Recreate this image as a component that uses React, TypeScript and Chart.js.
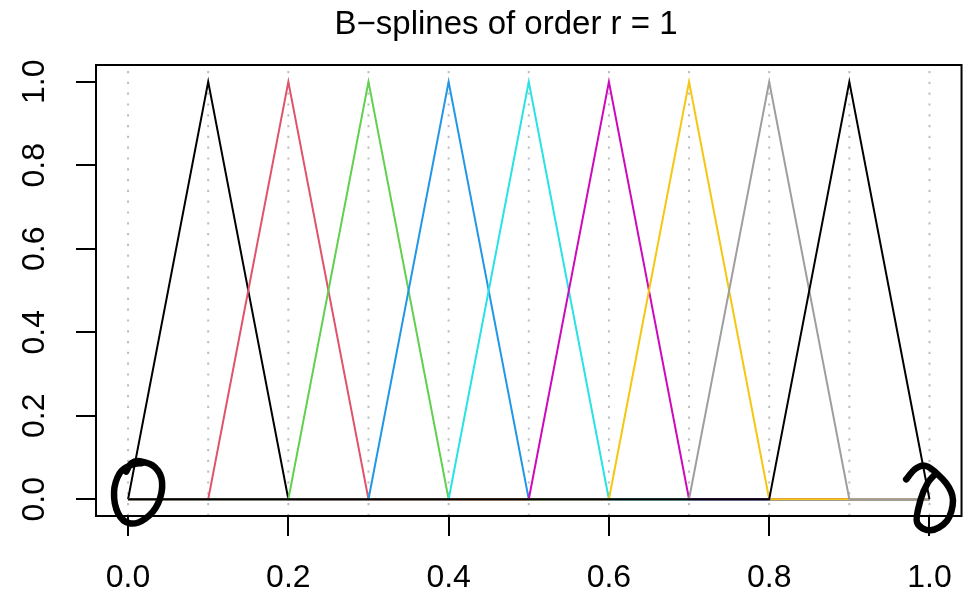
import React, { useEffect, useRef } from "react";
import { Chart, registerables } from "chart.js";

Chart.register(...registerables);

// ---- data ----
const knots = [0, 0.1, 0.2, 0.3, 0.4, 0.5, 0.6, 0.7, 0.8, 0.9, 1.0];
const basis1 = [0, 1, 0, 0, 0, 0, 0, 0, 0, 0, 0];
const basis2 = [0, 0, 1, 0, 0, 0, 0, 0, 0, 0, 0];
const basis3 = [0, 0, 0, 1, 0, 0, 0, 0, 0, 0, 0];
const basis4 = [0, 0, 0, 0, 1, 0, 0, 0, 0, 0, 0];
const basis5 = [0, 0, 0, 0, 0, 1, 0, 0, 0, 0, 0];
const basis6 = [0, 0, 0, 0, 0, 0, 1, 0, 0, 0, 0];
const basis7 = [0, 0, 0, 0, 0, 0, 0, 1, 0, 0, 0];
const basis8 = [0, 0, 0, 0, 0, 0, 0, 0, 1, 0, 0];
const basis9 = [0, 0, 0, 0, 0, 0, 0, 0, 0, 1, 0];
const basisSeries = [basis1, basis2, basis3, basis4, basis5, basis6, basis7, basis8, basis9];
const seriesColors = ["#000000", "#DF536B", "#61D04F", "#2297E6", "#28E2E5", "#CD0BBC", "#F5C710", "#9E9E9E", "#000000"];
const xTickValues = [0, 0.2, 0.4, 0.6, 0.8, 1.0];
const yTickValues = [0, 0.2, 0.4, 0.6, 0.8, 1.0];
const titleText = "B\u2212splines of order r = 1";
const axisMin = -0.04;
const axisMax = 1.04;

// hand-drawn marks (pixel offsets around the anchor points (0,0) and (1,0))
const leftMark = [
  [-1.8, -27.6], [3.2, -36], [12, -38], [27, -32], [34, -17.3], [30, 4],
  [17, 19.5], [1.5, 24], [-10, 14], [-14, -7.3], [-8.5, -26], [2, -34], [14, -36.3],
];
const rightMark = [
  [-23.3, -20], [-13.3, -31], [-1.7, -32.6], [16.7, -16], [23.5, 1], [17.5, 21.5],
  [1, 31], [-12.5, 23], [-9, 0.7], [-2, -16], [6.7, -26],
];

const FONT = "'Liberation Sans', Arial, Helvetica, sans-serif";

function strokeSmooth(ctx: CanvasRenderingContext2D, pts: number[][], ox: number, oy: number) {
  const p = pts.map(([a, b]) => [a + ox, b + oy]);
  ctx.beginPath();
  ctx.moveTo(p[0][0], p[0][1]);
  for (let i = 0; i < p.length - 1; i++) {
    const p0 = p[i - 1] || p[i];
    const p1 = p[i];
    const p2 = p[i + 1];
    const p3 = p[i + 2] || p2;
    ctx.bezierCurveTo(
      p1[0] + (p2[0] - p0[0]) / 6, p1[1] + (p2[1] - p0[1]) / 6,
      p2[0] - (p3[0] - p1[0]) / 6, p2[1] - (p3[1] - p1[1]) / 6,
      p2[0], p2[1]
    );
  }
  ctx.stroke();
}

const framePlugin = {
  id: "rframe",
  afterDatasetsDraw(chart: any) {
    const { ctx, chartArea: a } = chart;
    ctx.save();
    ctx.strokeStyle = "#000";
    ctx.lineWidth = 2;
    ctx.strokeRect(a.left, a.top, a.right - a.left, a.bottom - a.top);
    ctx.restore();
  },
  afterDraw(chart: any) {
    const { ctx } = chart;
    const xs = chart.scales.x;
    const ys = chart.scales.y;
    ctx.save();
    ctx.strokeStyle = "#000";
    ctx.lineWidth = 6.5;
    ctx.lineCap = "round";
    ctx.lineJoin = "round";
    strokeSmooth(ctx, leftMark, xs.getPixelForValue(0), ys.getPixelForValue(0));
    strokeSmooth(ctx, rightMark, xs.getPixelForValue(1), ys.getPixelForValue(0));
    ctx.restore();
  },
};

export default function App() {
  const ref = useRef<HTMLCanvasElement | null>(null);
  useEffect(() => {
    if (!ref.current) return;
    const knotLines = knots.map((k) => ({
      data: [{ x: k, y: axisMin }, { x: k, y: axisMax }],
      borderColor: "#BEBEBE",
      borderWidth: 2,
      borderDash: [2.2, 8.6],
      pointRadius: 0,
      order: 100,
    }));
    const splineSets = basisSeries.map((vals, i) => ({
      data: vals.map((v, j) => ({ x: knots[j], y: v })),
      borderColor: seriesColors[i],
      borderWidth: 2,
      pointRadius: 0,
      tension: 0,
      order: basisSeries.length - i,
    }));
    const chart = new Chart(ref.current, {
      type: "line",
      data: { datasets: [...knotLines, ...splineSets] as any },
      options: {
        animation: false,
        responsive: false,
        devicePixelRatio: 1,
        layout: { padding: { left: 0, right: -37, top: 0, bottom: 0 } },
        plugins: {
          legend: { display: false },
          tooltip: { enabled: false },
          title: {
            display: true,
            text: titleText,
            color: "#000",
            font: { family: FONT, size: 33, weight: "normal" },
            padding: { top: 5, bottom: 20.4 },
          },
        },
        scales: {
          x: {
            type: "linear",
            min: axisMin,
            max: axisMax,
            afterBuildTicks: (s: any) => { s.ticks = xTickValues.map((v) => ({ value: v })); },
            afterFit: (s: any) => { s.height = 84; },
            grid: { display: true, drawOnChartArea: false, drawTicks: true, tickLength: 20, color: "#000", lineWidth: 2 },
            border: { display: false },
            ticks: {
              color: "#000",
              font: { family: FONT, size: 32 },
              padding: 22.8,
              maxRotation: 0,
              minRotation: 0,
              autoSkip: false,
              callback: (v: any) => Number(v).toFixed(1),
            },
          },
          y: {
            type: "linear",
            min: axisMin,
            max: axisMax,
            afterBuildTicks: (s: any) => { s.ticks = yTickValues.map((v) => ({ value: v })); },
            afterFit: (s: any) => { s.width = 96; },
            grid: { display: true, drawOnChartArea: false, drawTicks: true, tickLength: 20, color: "#000", lineWidth: 2 },
            border: { display: false },
            ticks: {
              color: "#000",
              font: { family: FONT, size: 32 },
              padding: 19,
              minRotation: 90,
              maxRotation: 90,
              crossAlign: "center",
              autoSkip: false,
              callback: (v: any) => Number(v).toFixed(1),
            },
          },
          yRightMargin: {
            type: "linear",
            position: "right",
            min: axisMin,
            max: axisMax,
            afterFit: (s: any) => { s.width = 50; },
            grid: { display: false, drawTicks: false },
            border: { display: false },
            ticks: { display: false },
          },
        },
      },
      plugins: [framePlugin],
    });
    return () => chart.destroy();
  }, []);
  return (
    <div style={{ position: "fixed", left: 0, top: 0, width: 975, height: 600, background: "#fff" }}>
      <canvas ref={ref} width={975} height={600} style={{ width: 975, height: 600 }} />
    </div>
  );
}
